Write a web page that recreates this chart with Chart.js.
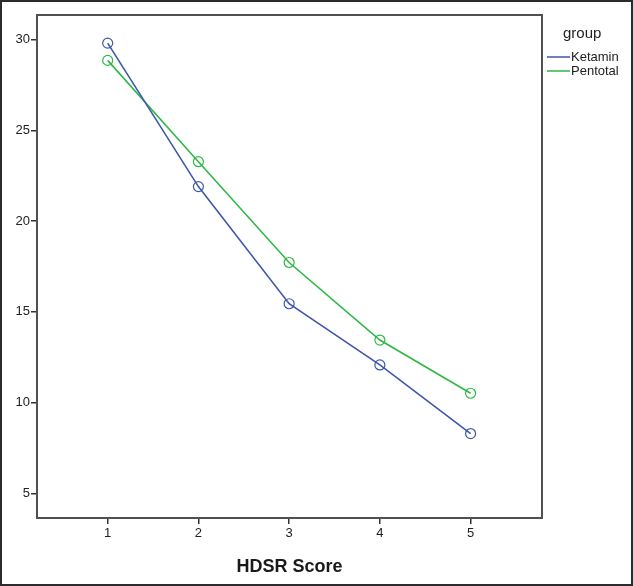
<!DOCTYPE html>
<html>
<head>
<meta charset="utf-8">
<script src="https://cdn.jsdelivr.net/npm/chart.js@4.4.1/dist/chart.umd.min.js"></script>
<style>
  html, body { margin: 0; padding: 0; background: #fff; }
  #wrap { width: 633px; height: 586px; position: relative; }
</style>
</head>
<body>
<div id="wrap"><canvas id="chart" width="633" height="586"></canvas></div>
<script>
// data
const scores = [1, 2, 3, 4, 5];
const ketamin = [29.8, 21.9, 15.45, 12.08, 8.3];
const pentotal = [28.85, 23.27, 17.72, 13.45, 10.52];
const yTicks = [5, 10, 15, 20, 25, 30];
const groupNames = ['Ketamin', 'Pentotal'];
const groupColors = ['#3e58ac', '#2eb848'];

const toPoints = (vals) => vals.map((v, i) => ({ x: scores[i], y: v }));

// frame round the plot, outer border and the "group" legend
const framePlugin = {
  id: 'frame',
  afterDraw(chart) {
    const { ctx, chartArea: a } = chart;
    ctx.save();
    ctx.strokeStyle = '#2b2b2b';
    ctx.lineWidth = 2;
    ctx.strokeRect(1, 1, chart.width - 2, chart.height - 2);
    ctx.strokeStyle = '#505050';
    ctx.lineWidth = 2;
    ctx.strokeRect(a.left, a.top, a.right - a.left, a.bottom - a.top);

    ctx.fillStyle = '#222';
    ctx.textBaseline = 'middle';
    ctx.textAlign = 'left';
    ctx.font = '15px Arial, "Liberation Sans", sans-serif';
    ctx.fillText('group', 563, 34);
    ctx.font = '13px Arial, "Liberation Sans", sans-serif';
    groupNames.forEach((name, i) => {
      const y = 57 + i * 14;
      ctx.strokeStyle = groupColors[i];
      ctx.lineWidth = 1.5;
      ctx.beginPath();
      ctx.moveTo(547, y);
      ctx.lineTo(570, y);
      ctx.stroke();
      ctx.fillText(name, 571, y);
    });
    ctx.restore();
  }
};

const ctx = document.getElementById('chart').getContext('2d');
new Chart(ctx, {
  type: 'line',
  data: {
    datasets: groupNames.map((name, i) => ({
      label: name,
      data: toPoints(i === 0 ? ketamin : pentotal),
      borderColor: groupColors[i],
      borderWidth: 1.6,
      pointStyle: 'circle',
      pointRadius: 5,
      pointBorderWidth: 1.2,
      pointBorderColor: groupColors[i],
      pointBackgroundColor: 'rgba(0,0,0,0)',
      tension: 0,
    })),
  },
  options: {
    responsive: false,
    animation: false,
    layout: { padding: { top: 15, right: 91, left: 0, bottom: 0 } },
    plugins: { legend: { display: false }, tooltip: { enabled: false } },
    scales: {
      x: {
        type: 'linear',
        min: 0.221,
        max: 5.787,
        afterBuildTicks: (s) => { s.ticks = scores.map((v) => ({ value: v })); },
        afterFit: (s) => { s.height = 68; },
        grid: { drawOnChartArea: false, drawTicks: true, tickLength: 6, color: '#333', lineWidth: 1.5 },
        border: { display: false },
        ticks: { color: '#222', padding: 2, font: { size: 13, family: 'Arial, "Liberation Sans", sans-serif' } },
        title: {
          display: true,
          text: 'HDSR Score',
          color: '#1a1a1a',
          padding: { top: 6, bottom: 8 },
          font: { size: 18, weight: 'bold', family: 'Arial, "Liberation Sans", sans-serif' },
        },
      },
      y: {
        min: 3.65,
        max: 31.35,
        afterBuildTicks: (s) => { s.ticks = yTicks.map((v) => ({ value: v })); },
        afterFit: (s) => { s.width = 37; },
        grid: { drawOnChartArea: false, drawTicks: true, tickLength: 6, color: '#333', lineWidth: 1.5 },
        border: { display: false },
        ticks: { color: '#222', padding: 1, font: { size: 13, family: 'Arial, "Liberation Sans", sans-serif' } },
      },
    },
  },
  plugins: [framePlugin],
});
</script>
</body>
</html>
